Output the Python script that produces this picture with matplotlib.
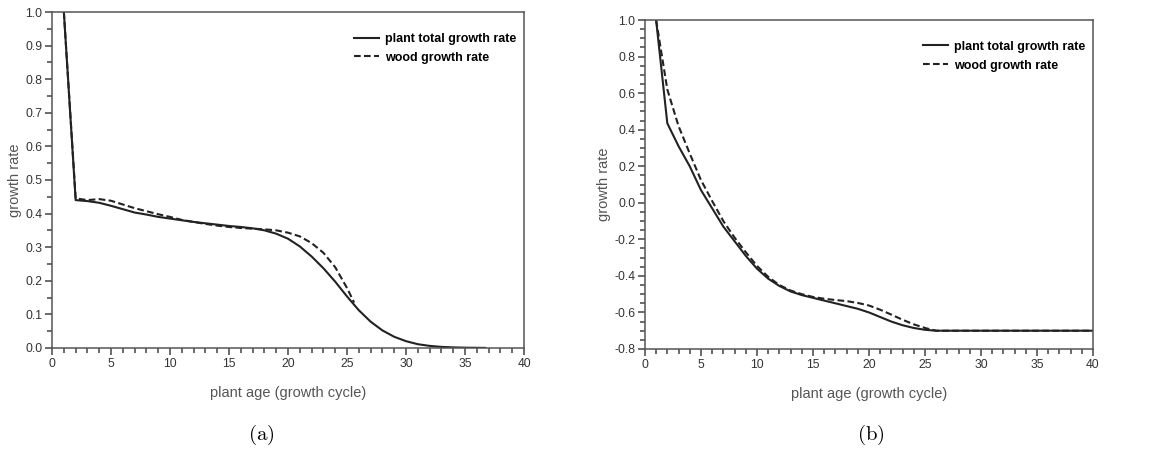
#!/usr/bin/env python3
'''Growth rate curves, two panels (a) and (b).'''
import matplotlib
matplotlib.use('Agg')
import matplotlib.pyplot as plt
from matplotlib.ticker import MultipleLocator, FormatStrFormatter

# panel (a)
age_a_total = [1, 2, 3, 4, 5, 6, 7, 8, 9, 10, 11, 12, 13, 14, 15, 16, 17, 18, 19, 20,
               21, 22, 23, 24, 25, 26, 27, 28, 29, 30, 31, 32, 33, 34, 35, 36, 36.7]
total_a = [1.0, 0.44, 0.437, 0.432, 0.423, 0.413, 0.403, 0.397, 0.39, 0.385, 0.38, 0.375,
           0.371, 0.367, 0.363, 0.36, 0.356, 0.35, 0.34, 0.325, 0.302, 0.272, 0.237, 0.197,
           0.153, 0.112, 0.078, 0.052, 0.033, 0.02, 0.011, 0.006, 0.003, 0.0015, 0.0007,
           0.0003, 0.0]
age_a_wood = [1, 2, 3, 4, 5, 6, 7, 8, 9, 10, 11, 12, 13, 14, 15, 16, 17, 18, 19, 20,
              21, 22, 23, 24, 25, 25.6]
wood_a = [1.0, 0.445, 0.44, 0.443, 0.438, 0.427, 0.416, 0.407, 0.398, 0.39, 0.381, 0.375,
          0.369, 0.364, 0.36, 0.357, 0.355, 0.353, 0.35, 0.343, 0.332, 0.312, 0.283, 0.24,
          0.178, 0.135]

# panel (b)
age_b = [1, 2, 3, 4, 5, 6, 7, 8, 9, 10, 11, 12, 13, 14, 15, 16, 17, 18, 19, 20,
         21, 22, 23, 24, 25, 26, 40]
total_b = [1.0, 0.435, 0.31, 0.2, 0.07, -0.03, -0.13, -0.21, -0.29, -0.36, -0.415, -0.455,
           -0.485, -0.505, -0.52, -0.535, -0.55, -0.565, -0.58, -0.6, -0.625, -0.65,
           -0.67, -0.685, -0.695, -0.70, -0.70]
wood_b = [1.0, 0.62, 0.42, 0.27, 0.125, 0.01, -0.1, -0.19, -0.27, -0.345, -0.405, -0.45,
          -0.48, -0.5, -0.515, -0.525, -0.532, -0.538, -0.548, -0.562, -0.585, -0.612,
          -0.64, -0.665, -0.685, -0.70, -0.70]

label_total = 'plant total growth rate'
label_wood = 'wood growth rate'
xlabel = 'plant age (growth cycle)'
ylabel = 'growth rate'

GRAY = '#555555'
LINE = '#222222'
plt.rcParams['font.family'] = ['Liberation Sans', 'DejaVu Sans']
plt.rcParams['mathtext.fontset'] = 'cm'

fig = plt.figure(figsize=(11.62, 4.53), dpi=100)
ax_a = fig.add_axes([0.0448, 0.232, 0.4062, 0.7415])
ax_b = fig.add_axes([0.555, 0.2296, 0.3856, 0.7262])


def style(ax, ymin, ymax, ymajor, yminor):
    ax.set_xlim(0, 40)
    ax.set_ylim(ymin, ymax)
    ax.xaxis.set_major_locator(MultipleLocator(5))
    ax.xaxis.set_minor_locator(MultipleLocator(1))
    ax.yaxis.set_major_locator(MultipleLocator(ymajor))
    ax.yaxis.set_minor_locator(MultipleLocator(yminor))
    ax.yaxis.set_major_formatter(FormatStrFormatter('%.1f'))
    ax.tick_params(which='major', direction='out', length=5, width=1.1,
                   color='#444444', labelcolor='#333333', labelsize=8.7, pad=2)
    ax.tick_params(which='minor', direction='out', length=3.5, width=1.1, color='#444444')
    for s in ax.spines.values():
        s.set_color('#555555')
        s.set_linewidth(1.1)
    ax.set_xlabel(xlabel, fontsize=10.5, color=GRAY, labelpad=12)
    ax.set_ylabel(ylabel, fontsize=10.5, color=GRAY, labelpad=2)
    ax.legend(loc='upper right', frameon=False, prop={'weight': 'bold', 'size': 9},
              handlelength=2.0, handletextpad=0.5, labelspacing=0.55,
              bbox_to_anchor=(1.0, 0.96), borderaxespad=0.2)


ax_a.plot(age_a_total, total_a, color=LINE, lw=1.5, label=label_total)
ax_a.plot(age_a_wood, wood_a, color=LINE, lw=1.5, ls=(0, (3.2, 1.6)), label=label_wood)
style(ax_a, 0.0, 1.0, 0.1, 0.05)

ax_b.plot(age_b, total_b, color=LINE, lw=1.5, label=label_total)
ax_b.plot(age_b, wood_b, color=LINE, lw=1.5, ls=(0, (3.2, 1.6)), label=label_wood)
style(ax_b, -0.8, 1.0, 0.2, 0.05)

fig.text(0.2245, 0.04, r'$\mathrm{(a)}$', ha='center', va='center', fontsize=15)
fig.text(0.7495, 0.04, r'$\mathrm{(b)}$', ha='center', va='center', fontsize=15)

fig.savefig('out.png', dpi=100)
